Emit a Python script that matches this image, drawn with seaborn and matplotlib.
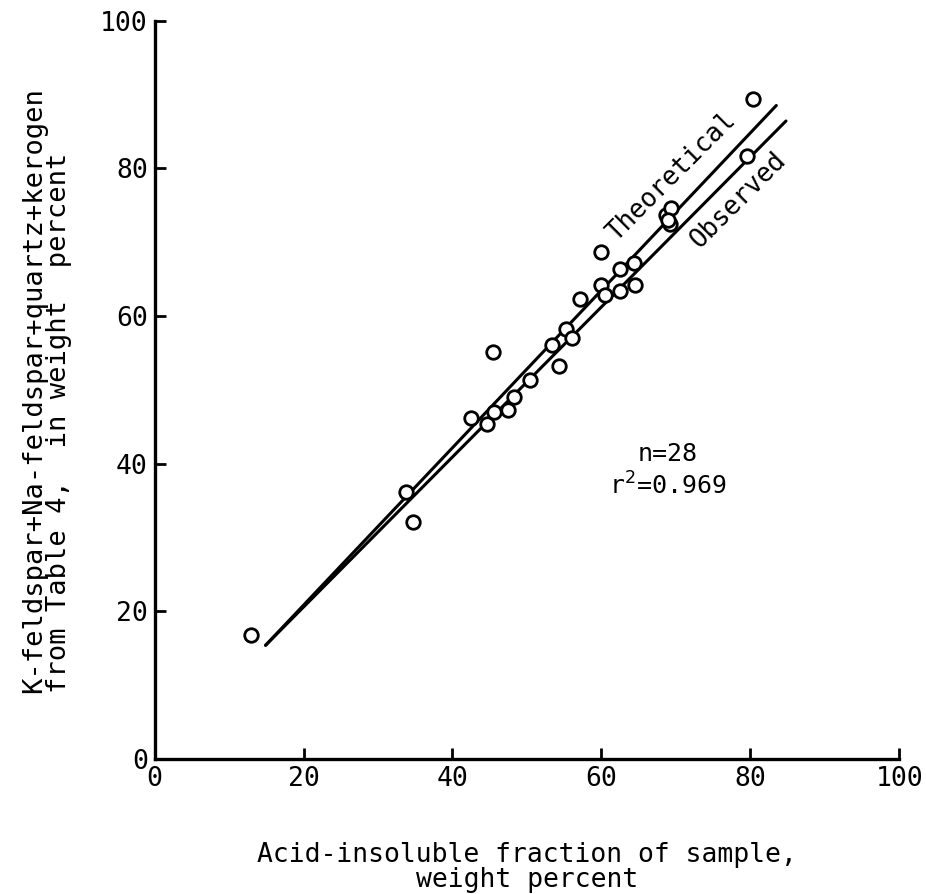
import pandas as pd
import seaborn as sns
import matplotlib.pyplot as plt

# acid-insoluble fraction vs. mineral sum, weight percent
acid_insoluble = [13.0, 33.8, 34.7, 42.5, 44.6, 45.6, 45.5, 47.5, 48.3, 50.4,
                  53.4, 54.3, 55.3, 56.1, 57.2, 60.0, 60.0, 60.5, 62.5, 62.5,
                  64.4, 64.5, 68.7, 69.4, 69.2, 69.0, 79.5, 80.4]
mineral_sum = [16.8, 36.1, 32.1, 46.2, 45.3, 47.0, 55.1, 47.2, 49.0, 51.3,
               56.1, 53.2, 58.2, 57.0, 62.3, 68.6, 64.2, 62.9, 66.3, 63.4,
               67.2, 64.2, 73.7, 74.6, 72.4, 73.0, 81.6, 89.4]

# end points of the two lines
theo_x = [14.9, 83.5]
theo_y = [15.4, 88.5]
obs_x = [14.9, 84.8]
obs_y = [15.4, 86.4]

df = pd.DataFrame({'x': acid_insoluble, 'y': mineral_sum})

sns.set_style('ticks')
plt.rcParams['font.family'] = ['DejaVu Sans Mono']
plt.rcParams['font.size'] = 19
plt.rcParams['xtick.direction'] = 'in'
plt.rcParams['ytick.direction'] = 'in'
for k in ['text.color', 'axes.labelcolor', 'xtick.color', 'ytick.color', 'axes.edgecolor']:
    plt.rcParams[k] = 'black'

fig = plt.figure(figsize=(9.26, 8.94), dpi=100)
ax = fig.add_axes([0.167, 0.151, 0.804, 0.826])

sns.lineplot(x=theo_x, y=theo_y, color='black', linewidth=2.2, ax=ax)
sns.lineplot(x=obs_x, y=obs_y, color='black', linewidth=2.2, ax=ax)
sns.scatterplot(data=df, x='x', y='y', s=95, facecolors='white',
                edgecolor='black', linewidth=2.0, zorder=3, ax=ax)

ax.set_xlim(0, 100)
ax.set_ylim(0, 100)
ax.set_xticks([0, 20, 40, 60, 80, 100])
ax.set_yticks([0, 20, 40, 60, 80, 100])
ax.tick_params(direction='in', length=8, width=2, labelsize=19, pad=5)
for s in ['top', 'right']:
    ax.spines[s].set_visible(False)
for s in ['left', 'bottom']:
    ax.spines[s].set_linewidth(2.4)

ax.set_xlabel('Acid-insoluble fraction of sample,\nweight percent',
              fontsize=19, labelpad=36, linespacing=0.95)
ax.set_ylabel('K-feldspar+Na-feldspar+quartz+kerogen\nfrom Table 4,  in weight  percent',
              fontsize=19.5, labelpad=20, linespacing=0.95, multialignment='left')

ax.text(69.4, 78.9, 'Theoretical', rotation=45, ha='center', va='center', fontsize=18.5)
ax.text(78.4, 75.7, 'Observed', rotation=45, ha='center', va='center', fontsize=18.5)
ax.text(68.9, 39.0, 'n=28\nr$^2$=0.969', ha='center', va='center', fontsize=18,
        linespacing=1.3)

fig.savefig('out.png', dpi=100)
